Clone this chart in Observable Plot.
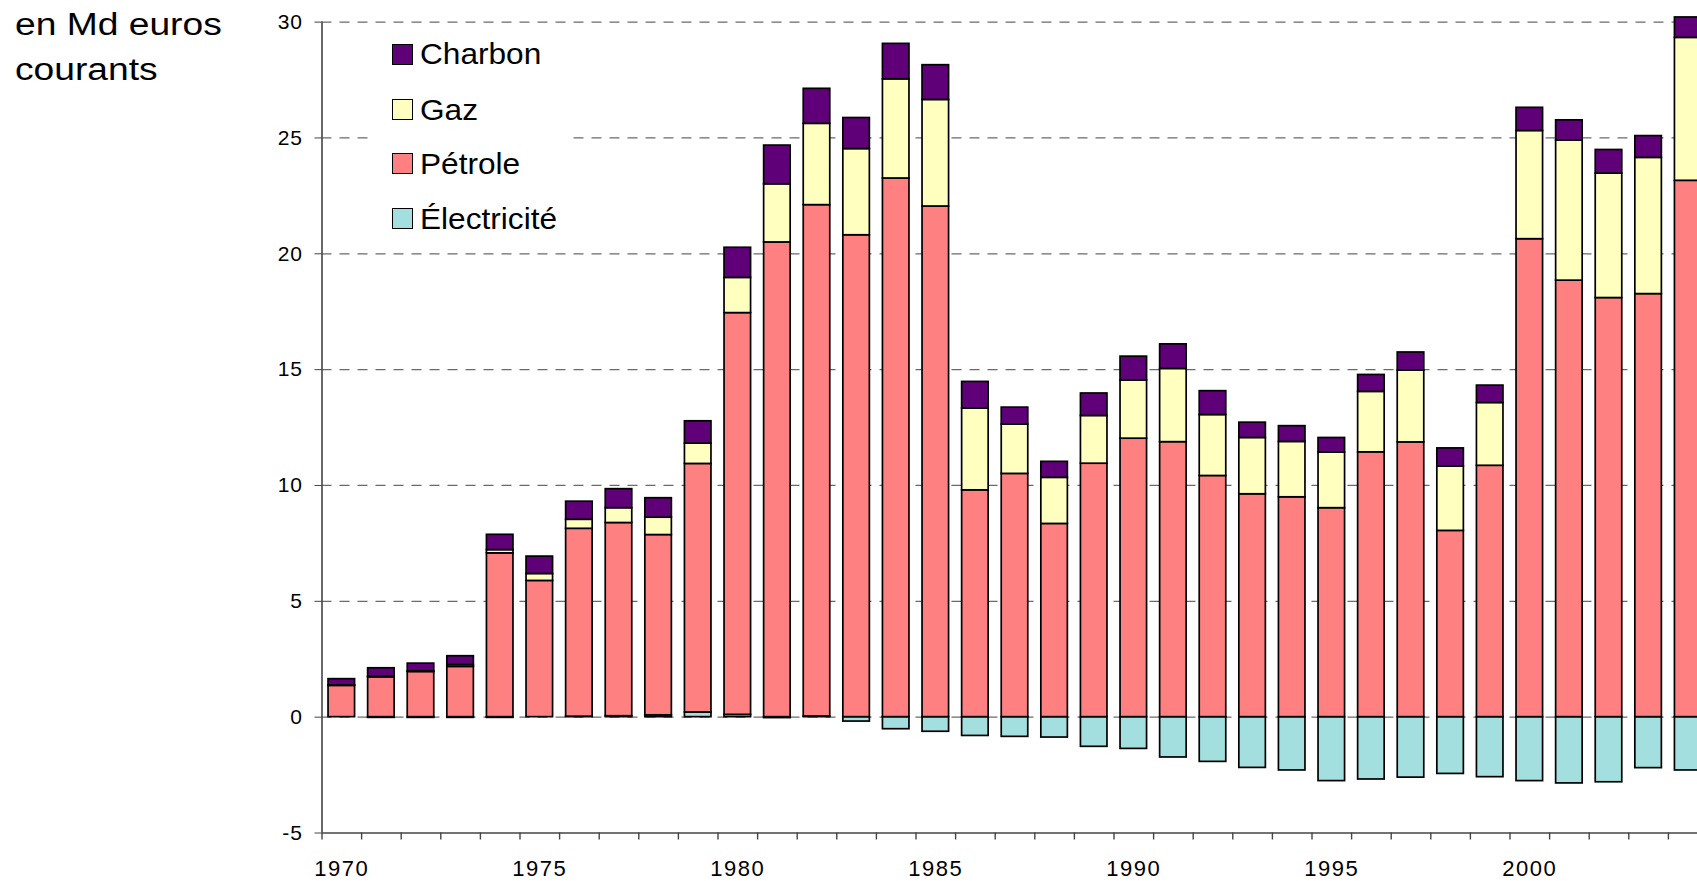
<!DOCTYPE html>
<html><head><meta charset="utf-8">
<script src="https://cdn.jsdelivr.net/npm/d3@7"></script>
<script src="https://cdn.jsdelivr.net/npm/@observablehq/plot@0.6"></script>
<style>
html,body{margin:0;padding:0;background:#fff;overflow:hidden;}
#wrap{position:relative;width:1697px;height:881px;font-family:"Liberation Sans",Arial,sans-serif;color:#000;}
#title{position:absolute;left:15px;top:2px;font-size:31px;line-height:45px;transform:scaleX(1.2);transform-origin:0 0;white-space:nowrap;}
#legendbox{position:absolute;left:375px;top:28px;width:193px;height:220px;background:#fff;}
.sw{position:absolute;box-sizing:border-box;border:1.5px solid #000;width:21px;height:21px;}
.lt{position:absolute;font-size:29px;line-height:29px;white-space:nowrap;transform:scaleX(1.09);transform-origin:0 0;}
</style></head>
<body><div id="wrap"><div id="chart"></div><div id="title">en Md euros<br>courants</div><div id="legendbox"></div></div>
<script>
const years = d3.range(1970, 2005);
const labelYears = [1970, 1975, 1980, 1985, 1990, 1995, 2000];
const yTicks = [-5, 0, 5, 10, 15, 20, 25, 30];

// stacking order (bottom to top) and legend order
const stackOrder = ["Électricité", "Pétrole", "Gaz", "Charbon"];
const legendOrder = ["Charbon", "Gaz", "Pétrole", "Électricité"];
const seriesColors = {"Charbon": "#5F0079", "Gaz": "#FFFFC0", "Pétrole": "#FF8080", "Électricité": "#A3DFDF"};

const electricite = [0, -0.03, -0.03, -0.03, -0.03, 0, 0.02, 0.04, 0.08, 0.2,
  0.1, -0.04, 0.03, -0.19, -0.52, -0.63, -0.81, -0.85, -0.88, -1.28,
  -1.37, -1.74, -1.93, -2.19, -2.30, -2.76, -2.69, -2.61, -2.45, -2.59,
  -2.76, -2.86, -2.81, -2.20, -2.30];
const petrole = [1.35, 1.72, 1.95, 2.17, 7.07, 5.88, 8.11, 8.34, 7.78, 10.73,
  17.34, 20.49, 22.07, 20.80, 23.25, 22.04, 9.79, 10.50, 8.34, 10.94,
  12.02, 11.87, 10.41, 9.62, 9.49, 9.02, 11.43, 11.86, 8.04, 10.85,
  20.63, 18.84, 18.09, 18.26, 23.15];
const gaz = [0.02, 0.03, 0.03, 0.08, 0.14, 0.30, 0.39, 0.64, 0.75, 0.88,
  1.52, 2.51, 3.51, 3.72, 4.28, 4.60, 3.53, 2.13, 1.99, 2.06,
  2.51, 3.16, 2.63, 2.43, 2.39, 2.40, 2.61, 3.10, 2.78, 2.71,
  4.67, 6.05, 5.37, 5.88, 6.17];
const charbon = [0.27, 0.36, 0.33, 0.38, 0.66, 0.75, 0.78, 0.82, 0.84, 0.96,
  1.30, 1.67, 1.51, 1.34, 1.53, 1.50, 1.15, 0.73, 0.69, 0.97,
  1.03, 1.06, 1.03, 0.66, 0.68, 0.63, 0.73, 0.78, 0.78, 0.75,
  1.00, 0.87, 1.02, 0.94, 0.88];

const valuesBySeries = {"Électricité": electricite, "Pétrole": petrole, "Gaz": gaz, "Charbon": charbon};
const rows = [];
years.forEach((year, i) => {
  for (const s of stackOrder) rows.push({year, series: s, value: valuesBySeries[s][i]});
});

const step = 39.6, x0 = 321.5;
const chart = Plot.plot({
  width: 1697, height: 881,
  marginLeft: x0, marginRight: 0, marginTop: 21.6, marginBottom: 48.5,
  style: {fontFamily: "'Liberation Sans', Arial, sans-serif", background: "transparent", color: "#000"},
  x: {type: "band", domain: years, range: [x0, x0 + years.length * step], paddingInner: 0.33, paddingOuter: 0.165, round: false},
  y: {domain: [-5, 30], range: [832.5, 21.6]},
  color: {domain: stackOrder, range: stackOrder.map(s => seriesColors[s])},
  marks: [
    Plot.ruleY(yTicks.filter(v => v !== -5), {stroke: "#6a6a6a", strokeWidth: 1.2, strokeDasharray: "10,8"}),
    Plot.barY(rows, {x: "year", y: "value", fill: "series", stroke: "#000", strokeWidth: 1.7, order: stackOrder}),
    Plot.ruleY([-5], {stroke: "#444", strokeWidth: 1.6}),
    Plot.ruleX([years[0]], {y1: -5, y2: 30, dx: -step / 2, stroke: "#444", strokeWidth: 1.6}),
    Plot.ruleX(years, {y1: -5, y2: -5, insetBottom: -7, dx: -step / 2, stroke: "#444", strokeWidth: 1.4}),
    Plot.axisY({ticks: yTicks, tickSize: 7, tickPadding: 12, fontSize: 21, label: null, tickFormat: d => String(d), stroke: "#444", ariaLabel: "y-axis"}),
    Plot.axisX({ticks: labelYears, tickSize: 0, tickPadding: 26.9, fontSize: 22, label: null, tickFormat: d => String(d), ariaLabel: "x-axis"})
  ]
});
document.getElementById("chart").appendChild(chart);
// slightly wider tick labels, as in the reference rendering
chart.querySelectorAll('g[aria-label="x-axis tick label"] text').forEach(t => t.style.letterSpacing = "1.5px");
chart.querySelectorAll('g[aria-label="y-axis tick label"] text').forEach(t => t.style.letterSpacing = "1px");

// legend
const wrap = document.getElementById("wrap");
const rowCenters = [54.5, 109.8, 163.8, 218.8];
legendOrder.forEach((s, i) => {
  const sw = document.createElement("div");
  sw.className = "sw";
  sw.style.left = "392px";
  sw.style.top = (rowCenters[i] - 10.5) + "px";
  sw.style.background = seriesColors[s];
  wrap.appendChild(sw);
  const t = document.createElement("div");
  t.className = "lt";
  t.style.left = "420px";
  t.style.top = (rowCenters[i] - 14.1) + "px";
  t.textContent = s;
  wrap.appendChild(t);
});
</script></body></html>
